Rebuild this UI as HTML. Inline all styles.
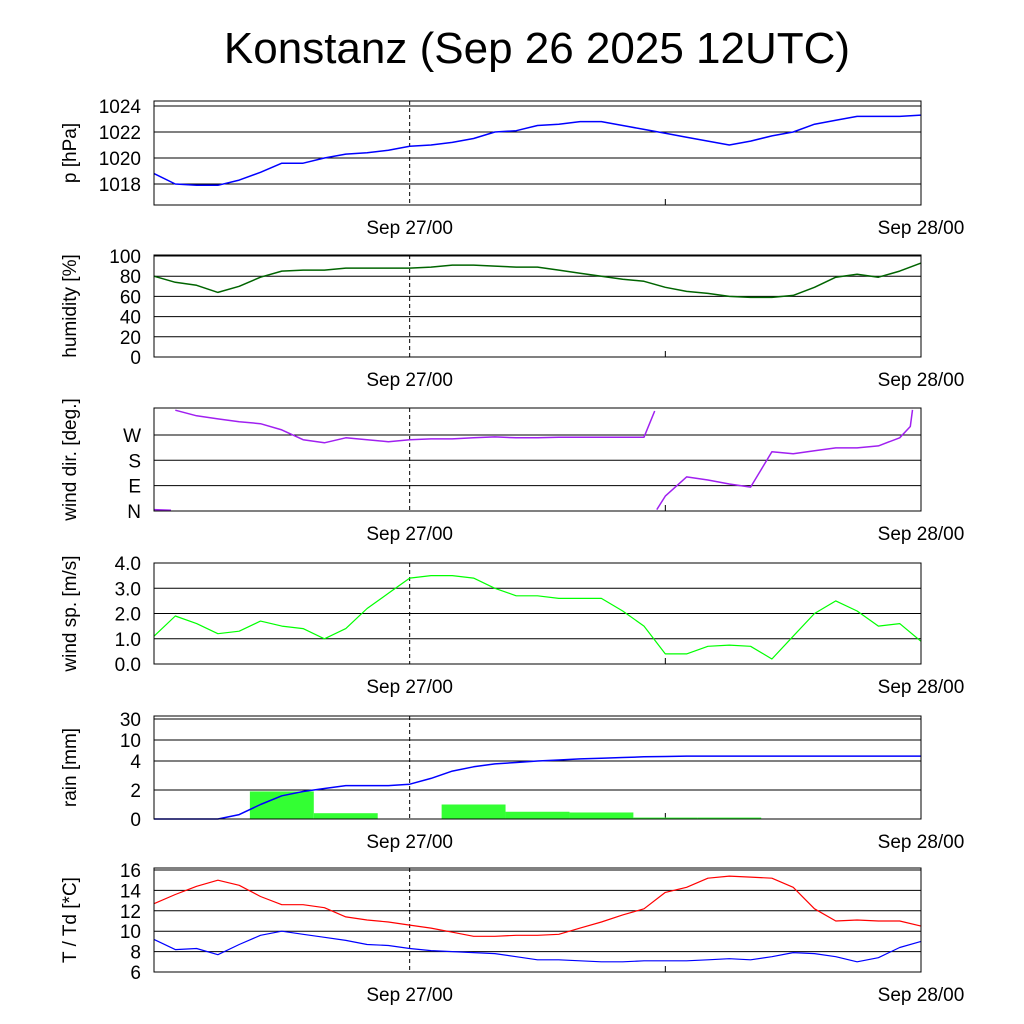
<!DOCTYPE html>
<html><head><meta charset="utf-8"><style>
html,body{margin:0;padding:0;background:#fff;width:1024px;height:1024px;overflow:hidden}
text{font-family:"Liberation Sans",sans-serif}
</style></head><body>
<svg id="svg" width="1024" height="1024" xmlns="http://www.w3.org/2000/svg">
<text x="537" y="63" font-size="44" text-anchor="middle">Konstanz (Sep 26 2025 12UTC)</text>
</svg>
<script>
const hours=[0,1,2,3,4,5,6,7,8,9,10,11,12,13,14,15,16,17,18,19,20,21,22,23,24,25,26,27,28,29,30,31,32,33,34,35,36];
const pressure=[1018.8,1018.0,1017.9,1017.9,1018.3,1018.9,1019.6,1019.6,1020.0,1020.3,1020.4,1020.6,1020.9,1021.0,1021.2,1021.5,1022.0,1022.1,1022.5,1022.6,1022.8,1022.8,1022.5,1022.2,1021.9,1021.6,1021.3,1021.0,1021.3,1021.7,1022.0,1022.6,1022.9,1023.2,1023.2,1023.2,1023.3];
const humidity=[80,74,71,64,70,79,85,86,86,88,88,88,88,89,91,91,90,89,89,86,83,80,77,75,69,65,63,60,59,59,61,69,79,82,79,85,93];
const dirHours=[0,0.8,1,2,3,4,5,6,7,8,9,10,11,12,13,14,15,16,17,18,19,20,21,22,23,23.5,23.6,24,25,26,27,28,29,30,31,32,33,34,35,35.5,35.6,36];
const windDir=[365,363,358,338,327,317,310,288,253,242,260,253,246,253,256,256,260,263,260,260,262,262,262,262,262,355,365,53,121,110,96,85,210,203,214,224,224,231,260,300,359,372];
const windSpeed=[1.1,1.9,1.6,1.2,1.3,1.7,1.5,1.4,1.0,1.4,2.2,2.8,3.4,3.5,3.5,3.4,3.0,2.7,2.7,2.6,2.6,2.6,2.1,1.5,0.4,0.4,0.7,0.75,0.7,0.2,1.1,2.0,2.5,2.1,1.5,1.6,0.9];
const rainCum=[0,0,0,0,0.3,1.0,1.6,1.9,2.1,2.3,2.3,2.3,2.4,2.8,3.3,3.6,3.8,3.9,4.0,4.3,4.6,4.8,5.0,5.2,5.3,5.4,5.4,5.4,5.4,5.4,5.4,5.4,5.4,5.4,5.4,5.4,5.4];
const barStart=[4.5,7.5,10.5,13.5,16.5,19.5,22.5,25.5];
const barRain=[1.9,0.4,0,1.0,0.5,0.45,0.1,0.1];
const temp=[12.7,13.6,14.4,15.0,14.5,13.4,12.6,12.6,12.3,11.4,11.1,10.9,10.6,10.3,9.9,9.5,9.5,9.6,9.6,9.7,10.3,10.9,11.6,12.2,13.8,14.3,15.2,15.4,15.3,15.2,14.3,12.2,11.0,11.1,11.0,11.0,10.5];
const dew=[9.2,8.2,8.3,7.7,8.7,9.6,10.0,9.7,9.4,9.1,8.7,8.6,8.3,8.1,8.0,7.9,7.8,7.5,7.2,7.2,7.1,7.0,7.0,7.1,7.1,7.1,7.2,7.3,7.2,7.5,7.9,7.8,7.5,7.0,7.4,8.4,9.0];

const svg=document.getElementById('svg');const NS='http://www.w3.org/2000/svg';
function mk(tag,at,parent){const e=document.createElementNS(NS,tag);for(const k in at)e.setAttribute(k,at[k]);(parent||svg).appendChild(e);return e;}
const X0=154,X1=921;
function xs(h){return X0+h*(X1-X0)/36;}

function panel(name,top,bot,ylabel,ticks,ys){
  const g=mk('g',{});
  
  
  ticks.forEach(t=>{
    const y=ys(t.v);
    const l=mk('line',{x1:X0,x2:X1,y1:y,y2:y,stroke:'#000','stroke-width':1},g);
    
    
    const tx=mk('text',{x:141,y:y+7,'font-size':19,'text-anchor':'end'},g);
    tx.textContent=t.l;
    
    
  });
  const d=mk('line',{x1:xs(12),x2:xs(12),y1:top,y2:bot,stroke:'#000','stroke-dasharray':'4,3'},g);
  
  
  const m=mk('line',{x1:xs(24),x2:xs(24),y1:bot-6,y2:bot,stroke:'#000'},g);
  
  
  const yl=mk('text',{x:0,y:0,'font-size':19,'text-anchor':'middle',transform:`translate(76,${(top+bot)/2}) rotate(-90)`},g);
  yl.textContent=ylabel;
  
  
  [[12,'Sep 27/00'],[36,'Sep 28/00']].forEach(([h,s])=>{
    const t=mk('text',{x:xs(h),y:bot+29,'font-size':19,'text-anchor':'middle'},g);
    t.textContent=s;
    
    
  });
  return g;
}
function frame(g,name,top,bot){
  const r=mk('rect',{x:X0,y:top,width:X1-X0,height:bot-top,fill:'none',stroke:'#000','stroke-width':1},g);
  
  
}
function line(g,name,hs,vs,ys,color,w,brk){
  let d='';let prev=null;
  hs.forEach((h,i)=>{
    let v=vs[i];if(brk)v=((v%360)+360)%360;
    const cmd=(prev===null||(brk&&Math.abs(v-prev)>180))?'M':'L';
    d+=cmd+xs(h).toFixed(1)+','+ys(v).toFixed(1)+' ';prev=v;
  });
  const p=mk('path',{d:d,fill:'none',stroke:color,'stroke-width':w,'stroke-linejoin':'round'},g);
  
  
}

let ysP=v=>106+(1024-v)*13;
let g=panel('pressure',101,205,'p [hPa]',[1024,1022,1020,1018].map(v=>({v,l:v})),ysP);
line(g,'pressure-line',hours,pressure,ysP,'#0000ff',1.5);
frame(g,'pressure',101,205);
let ysH=v=>357-v*1.01;
g=panel('humidity',255,357,'humidity [%]',[100,80,60,40,20,0].map(v=>({v,l:v})),ysH);
line(g,'humidity-line',hours,humidity,ysH,'#006400',1.5);
frame(g,'humidity',255,357);
let ysD=v=>511-v*0.2817;
g=panel('wind-dir',408,511,'wind dir. [deg.]',[[0,'N'],[90,'E'],[180,'S'],[270,'W']].map(([v,l])=>({v,l})),ysD);
line(g,'wind-dir-line',dirHours,windDir,ysD,'#a020f0',1.5,true);
frame(g,'wind-dir',408,511);
let ysS=v=>664-v*25.25;
g=panel('wind-speed',563,664,'wind sp. [m/s]',[4,3,2,1,0].map(v=>({v,l:v.toFixed(1)})),ysS);
line(g,'wind-speed-line',hours,windSpeed,ysS,'#00ff00',1.2);
frame(g,'wind-speed',563,664);
let ysR=v=>v<=4?819-v*14.5:(v<=10?761-(v-4)*3.5:740-(v-10)*1.05);
g=panel('rain',716,819,'rain [mm]',[30,10,4,2,0].map(v=>({v,l:v})),ysR);
barStart.forEach((s,i)=>{
  const y=ysR(barRain[i]);
  const b=mk('rect',{x:xs(s),y:y,width:xs(s+3)-xs(s),height:819-y,fill:'#33ff33'},g);
  
  
});
line(g,'rain-cumulative-line',hours,rainCum,ysR,'#0000ff',1.5);
frame(g,'rain',716,819);
let ysT=v=>870+(16-v)*10.2;
g=panel('temperature',868,972,'T / Td [*C]',[16,14,12,10,8,6].map(v=>({v,l:v})),ysT);
line(g,'temperature-line',hours,temp,ysT,'#ff0000',1.2);
line(g,'dewpoint-line',hours,dew,ysT,'#0000ff',1.2);
frame(g,'temperature',868,972);
</script>
</body></html>
